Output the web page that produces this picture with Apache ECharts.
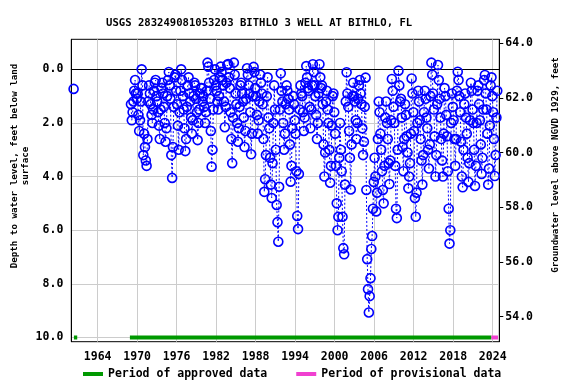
<!DOCTYPE html>
<html><head><meta charset="utf-8">
<script src="https://cdn.jsdelivr.net/npm/echarts@6/dist/echarts.min.js"></script>
<style>html,body{margin:0;padding:0;background:#fff}#c{width:576px;height:384px}</style>
</head><body><div id="c"></div>
<script>
const chartTitle = 'USGS 283249081053203 BITHLO 3 WELL AT BITHLO, FL';
const leftAxisName = 'Depth to water level, feet below land\nsurface';
const rightAxisName = 'Groundwater level above NGVD 1929, feet';
const xTicks = [1964, 1970, 1976, 1982, 1988, 1994, 2000, 2006, 2012, 2018, 2024];
const depthTicks = [0, 2, 4, 6, 8, 10];
const levelTicks = [54, 56, 58, 60, 62, 64];

const earlyDates = [1960.35];
const earlyDepths = [0.73];

const rowYears = [1969,1970,1971,1972,1973,1974,1975,1976,1977,1978,1979,1980,1981,1982,1983,1984,1985,1986,1987,1988,1989,1990,1991,1992,1993,1994,1995,1996,1997,1998,1999,2000,2001,2002,2003,2004,2005,2006,2007,2008,2009,2010,2011,2012,2013,2014,2015,2016,2017,2018,2019,2020,2021,2022,2023,2024];
const depthRows = [
  [1.3, 1.9, 1.6, 1.2, 0.8, 0.4, 0.9, 1.1],
  [0.9, 1.7, 2.3, 1.9, 1.2, 0.0, 0.6, 3.2],
  [2.4, 2.9, 3.4, 3.6, 2.6, 1.2, 0.6, 0.9],
  [1.3, 1.7, 2.0, 1.5, 0.8, 0.5, 0.4, 1.0],
  [1.2, 1.6, 2.1, 2.6, 1.5, 0.7, 0.5, 0.9],
  [1.4, 2.0, 2.7, 2.2, 1.0, 0.4, 0.1, 0.6],
  [1.1, 3.2, 4.05, 2.9, 1.4, 0.3, 0.2, 0.8],
  [1.3, 2.1, 3.0, 1.6, 0.8, 0.0, 0.4, 1.0],
  [1.5, 2.2, 3.05, 2.6, 1.4, 0.6, 0.3, 0.9],
  [1.2, 1.8, 2.4, 1.9, 1.0, 0.5, 0.6, 1.1],
  [1.6, 2.64, 2.0, 1.5, 0.9, 0.7, 0.7, 1.2],
  [1.0, 1.4, 2.0, 1.6, 0.8, -0.25, -0.1, 0.5],
  [1.1, 2.3, 3.63, 3.0, 1.5, 0.4, 0.0, 0.6],
  [0.8, 1.2, 1.5, 1.0, 0.3, -0.1, 0.1, 0.4],
  [0.6, 1.2, 2.16, 1.4, 0.5, -0.16, -0.2, 0.3],
  [0.7, 1.6, 2.6, 3.5, 1.8, -0.25, 0.2, 0.9],
  [1.3, 2.0, 2.7, 2.2, 1.4, 0.6, 0.5, 0.9],
  [1.2, 1.8, 2.9, 2.3, 1.1, -0.04, 0.2, 0.6],
  [0.9, 1.6, 3.17, 2.4, 1.0, -0.09, 0.1, 0.7],
  [1.0, 1.7, 2.4, 1.9, 1.2, 0.2, 0.5, 0.9],
  [1.3, 2.6, 4.57, 4.1, 3.2, 1.0, 0.3, 1.8],
  [2.2, 3.3, 4.3, 4.8, 3.5, 2.0, 0.6, 1.5],
  [3.0, 5.06, 5.7, 6.43, 4.38, 1.5, 0.15, 0.8],
  [1.2, 2.0, 3.0, 2.4, 1.3, 0.6, 0.8, 1.1],
  [1.5, 2.8, 4.19, 3.6, 2.2, 1.0, 1.3, 1.9],
  [2.4, 3.8, 5.47, 5.96, 3.9, 1.5, 0.6, 0.9],
  [1.0, 1.6, 2.3, 1.8, 0.5, -0.12, 0.3, 0.7],
  [0.8, 1.4, 2.2, 1.5, 0.6, -0.19, 0.1, 0.6],
  [1.0, 1.7, 2.6, 2.0, 0.9, -0.19, 0.3, 0.7],
  [0.6, 1.3, 2.8, 4.0, 3.1, 1.2, 0.8, 1.5],
  [2.0, 3.0, 4.23, 3.6, 2.1, 1.0, 0.9, 1.6],
  [2.4, 3.6, 5.0, 6.0, 5.5, 3.3, 2.0, 3.0],
  [3.8, 5.5, 6.67, 6.9, 4.3, 1.2, 0.11, 0.9],
  [1.4, 2.3, 3.3, 4.48, 2.8, 1.0, 0.5, 1.0],
  [1.2, 1.9, 2.6, 2.0, 1.1, 0.6, 0.4, 0.9],
  [1.3, 2.2, 3.2, 2.7, 1.4, 0.31, 4.5, 7.08],
  [8.2, 9.07, 8.46, 7.79, 6.7, 6.22, 5.2, 4.2],
  [3.3, 4.0, 5.3, 4.6, 2.6, 1.2, 1.6, 2.4],
  [3.0, 3.8, 4.5, 5.0, 3.6, 1.8, 1.2, 2.0],
  [2.6, 3.5, 4.28, 3.4, 1.9, 0.36, 0.8, 1.4],
  [2.0, 3.6, 5.2, 5.55, 3.0, 0.05, 0.6, 1.2],
  [1.1, 1.8, 2.9, 3.8, 2.6, 1.3, 1.7, 2.5],
  [3.1, 4.44, 4.0, 3.5, 2.4, 0.34, 0.9, 1.6],
  [2.3, 4.8, 5.5, 4.6, 2.0, 0.8, 1.2, 1.9],
  [2.6, 3.4, 4.3, 3.2, 1.6, 0.8, 1.1, 1.8],
  [2.2, 3.0, 3.7, 2.8, 1.0, -0.25, 0.2, 0.9],
  [1.5, 2.5, 4.0, 3.2, 1.3, -0.16, 0.4, 1.1],
  [1.8, 2.6, 3.4, 4.0, 2.4, 0.7, 1.0, 1.7],
  [2.5, 3.8, 5.2, 6.5, 6.0, 2.0, 0.9, 1.4],
  [1.9, 2.6, 3.6, 2.6, 0.8, 0.09, 0.4, 1.0],
  [1.6, 2.7, 4.0, 4.4, 3.0, 1.3, 0.9, 1.8],
  [2.4, 3.3, 4.2, 3.5, 1.9, 0.5, 0.8, 1.5],
  [2.0, 3.0, 4.35, 3.6, 2.0, 0.8, 0.6, 1.3],
  [1.9, 2.8, 3.9, 3.3, 1.5, 0.4, 0.21, 0.9],
  [1.5, 2.4, 4.3, 3.7, 2.1, 0.6, 0.3, 1.0],
  [1.6, 2.6, 3.98, 3.2, 1.8, 0.8]
];
const samplesPerYear = 8;

const approvedStart = [1960.4, 1968.9];
const approvedEnd = [1960.9, 2023.8];
const provisionalStart = [2023.8];
const provisionalEnd = [2024.8];
const periodDepth = 10;

const FONT = 'DejaVu Sans Mono';
const BLUE = '#0000ff';
const GREEN = '#009900';
const PINK = '#f040d0';

const mainData = [];
rowYears.forEach((y, r) => {
  depthRows[r].forEach((d, i) => mainData.push([y + (i + 0.5) / samplesPerYear, d]));
});
const earlyData = earlyDates.map((t, i) => [t, earlyDepths[i]]);

const pointStyle = {
  type: 'line', xAxisIndex: 0, yAxisIndex: 0,
  symbol: 'circle', symbolSize: 9,
  itemStyle: { color: 'rgba(0,0,0,0)', borderColor: BLUE, borderWidth: 1.6 },
  lineStyle: { color: BLUE, width: 1, type: [2, 2] },
  silent: true, animation: false, z: 3
};

const series = [
  Object.assign({}, pointStyle, { name: 'obs', data: mainData }),
  Object.assign({}, pointStyle, { name: 'obs0', data: earlyData })
];
approvedStart.forEach((s, i) => series.push({
  name: 'Period of approved data', type: 'line', symbol: 'none', silent: true, animation: false,
  itemStyle: { color: GREEN }, lineStyle: { color: GREEN, width: 4, cap: 'butt' },
  data: [[s, periodDepth], [approvedEnd[i], periodDepth]]
}));
provisionalStart.forEach((s, i) => series.push({
  name: 'Period of provisional data', type: 'line', symbol: 'none', silent: true, animation: false,
  itemStyle: { color: PINK }, lineStyle: { color: PINK, width: 4, cap: 'butt' },
  data: [[s, periodDepth], [provisionalEnd[i], periodDepth]]
}));

const labelStyle = { fontFamily: FONT, fontSize: 11.5, fontWeight: 'bold', color: '#000' };

const chart = echarts.init(document.getElementById('c'), null, { renderer: 'canvas' });
chart.setOption({
  animation: false,
  backgroundColor: '#fff',
  title: {
    text: chartTitle, left: 101, top: 13,
    textStyle: { fontFamily: FONT, fontSize: 10.6, fontWeight: 'bold', color: '#000' }
  },
  graphic: [{
    type: 'text', x: 20, y: 166, rotation: Math.PI / 2,
    style: { text: leftAxisName, align: 'center', verticalAlign: 'middle', lineHeight: 11,
      fontFamily: FONT, fontSize: 9.2, fontWeight: 'bold', fill: '#000' }
  }, {
    type: 'text', x: 556, y: 165, rotation: Math.PI / 2,
    style: { text: rightAxisName, align: 'center', verticalAlign: 'middle',
      fontFamily: FONT, fontSize: 9.2, fontWeight: 'bold', fill: '#000' }
  }],
  legend: {
    data: ['Period of approved data', 'Period of provisional data'],
    left: 78, top: 363, itemGap: 29, itemWidth: 20, itemHeight: 4, icon: 'rect',
    textStyle: labelStyle,
    selectedMode: false
  },
  grid: { left: 71.3, right: 76.7, top: 39.3, bottom: 42.3, show: true, borderColor: '#000', borderWidth: 1, containLabel: false },
  xAxis: {
    type: 'value', min: 1960, max: 2025,
    axisLine: { show: true, lineStyle: { color: '#000' } },
    axisTick: { show: false, customValues: xTicks },
    axisLabel: Object.assign({ customValues: xTicks, margin: 9, formatter: v => String(Math.round(v)) }, labelStyle),
    splitLine: { show: true, lineStyle: { color: '#cccccc', width: 1 } }
  },
  yAxis: [{
    type: 'value', inverse: true, min: -1.12, max: 10.16, position: 'left',
    axisLine: { show: true, lineStyle: { color: '#000' } },
    axisTick: { show: false, customValues: depthTicks },
    axisLabel: Object.assign({ customValues: depthTicks, margin: 8, formatter: v => v.toFixed(1) }, labelStyle),
    splitLine: { show: true, lineStyle: { color: '#cccccc', width: 1 } }
  }, {
    type: 'value', min: 53.086, max: 64.146, position: 'right',
    axisLine: { show: true, lineStyle: { color: '#000' } },
    axisTick: { show: true, inside: false, length: 4, customValues: levelTicks, lineStyle: { color: '#000' } },
    axisLabel: Object.assign({ customValues: levelTicks, margin: 6, formatter: v => v.toFixed(1) }, labelStyle),
    splitLine: { show: false }
  }],
  series: series
});
</script>
</body></html>
